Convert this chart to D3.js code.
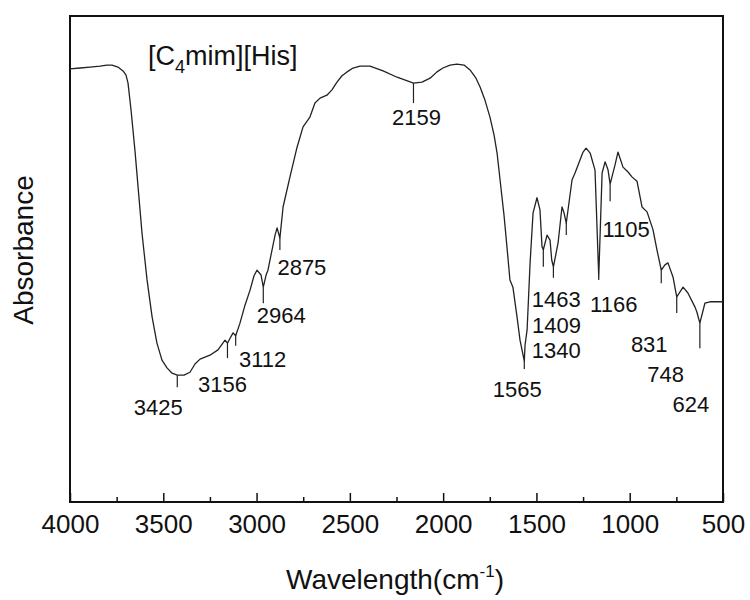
<!DOCTYPE html>
<html>
<head>
<meta charset="utf-8">
<script src="https://cdn.jsdelivr.net/npm/d3@7"></script>
<style>
  body { margin: 0; background: #fff; }
  text { font-family: "Liberation Sans", Arial, sans-serif; fill: #111; }
</style>
</head>
<body>
<div id="chart"></div>
<script>
// FTIR spectrum of [C4mim][His]
const wavenumber = [4000, 3946, 3893, 3839, 3802, 3775, 3743, 3716, 3700, 3689, 3673, 3652, 3614, 3587, 3560, 3534, 3507, 3480, 3453, 3425, 3389, 3357, 3330, 3303, 3250, 3207, 3169, 3156, 3142, 3126, 3112, 3089, 3062, 3035, 3014, 2998, 2976, 2964, 2949, 2939, 2917, 2901, 2890, 2875, 2858, 2821, 2783, 2751, 2714, 2687, 2660, 2623, 2596, 2569, 2542, 2515, 2483, 2446, 2392, 2322, 2247, 2188, 2159, 2113, 2070, 2033, 2001, 1963, 1926, 1888, 1856, 1824, 1802, 1776, 1749, 1727, 1711, 1695, 1674, 1658, 1642, 1626, 1604, 1588, 1565, 1561, 1550, 1534, 1518, 1497, 1481, 1470, 1463, 1443, 1427, 1418, 1409, 1384, 1363, 1352, 1340, 1309, 1293, 1266, 1250, 1234, 1212, 1186, 1166, 1148, 1132, 1116, 1105, 1079, 1063, 1036, 1020, 1009, 988, 961, 934, 907, 875, 854, 831, 811, 795, 768, 748, 714, 688, 650, 640, 624, 597, 570, 543, 516, 500];
const absorbance = [0.891, 0.893, 0.895, 0.897, 0.899, 0.899, 0.895, 0.887, 0.879, 0.862, 0.807, 0.724, 0.553, 0.457, 0.381, 0.327, 0.292, 0.276, 0.265, 0.261, 0.261, 0.267, 0.284, 0.294, 0.302, 0.313, 0.333, 0.327, 0.337, 0.348, 0.342, 0.368, 0.405, 0.436, 0.465, 0.477, 0.467, 0.442, 0.467, 0.477, 0.519, 0.549, 0.564, 0.543, 0.607, 0.669, 0.730, 0.772, 0.792, 0.821, 0.831, 0.837, 0.848, 0.864, 0.877, 0.885, 0.893, 0.897, 0.897, 0.887, 0.874, 0.866, 0.862, 0.864, 0.872, 0.885, 0.893, 0.899, 0.901, 0.899, 0.889, 0.872, 0.854, 0.827, 0.792, 0.755, 0.718, 0.663, 0.591, 0.525, 0.457, 0.442, 0.381, 0.333, 0.290, 0.323, 0.354, 0.492, 0.595, 0.626, 0.601, 0.525, 0.519, 0.549, 0.539, 0.498, 0.484, 0.533, 0.607, 0.595, 0.574, 0.663, 0.677, 0.704, 0.720, 0.728, 0.718, 0.683, 0.463, 0.677, 0.700, 0.683, 0.654, 0.693, 0.720, 0.689, 0.683, 0.679, 0.669, 0.660, 0.607, 0.597, 0.560, 0.519, 0.477, 0.488, 0.492, 0.463, 0.422, 0.442, 0.430, 0.401, 0.391, 0.368, 0.409, 0.412, 0.412, 0.412, 0.412];

const peaks = [3425, 3156, 3112, 2964, 2875, 2159, 1565, 1463, 1409, 1340, 1166, 1105, 831, 748, 624];
const xTicks = [4000, 3500, 3000, 2500, 2000, 1500, 1000, 500];
const xMinorTicks = [3750, 3250, 2750, 2250, 1750, 1250, 750];

// label placement (pixels, relative to the peak point) and marker lengths
const labelLayout = {
  3425: {dx: -19, dy: 40, len: 12},
  3156: {dx: -5, dy: 49, len: 15},
  3112: {dx: 27, dy: 31, len: 10},
  2964: {dx: 18, dy: 36, len: 16},
  2875: {dx: 22, dy: 37, len: 12},
  2159: {dx: 3, dy: 42, len: 20},
  1565: {dx: -7, dy: 36, len: 8},
  1463: {dx: 13, dy: 57, len: 17},
  1409: {dx: 3, dy: 66, len: 11},
  1340: {dx: -10, dy: 135, len: 12},
  1166: {dx: 15, dy: 35, len: 3},
  1105: {dx: 16, dy: 53, len: 17},
  831: {dx: -12, dy: 82, len: 13},
  748: {dx: -11, dy: 85, len: 16},
  624: {dx: -9, dy: 89, len: 25}
};

const width = 750, height = 600;
const plot = {left: 70, top: 16, right: 723, bottom: 502};

const svg = d3.select("#chart").append("svg")
  .attr("width", width)
  .attr("height", height);

const x = d3.scaleLinear().domain([4000, 500]).range([plot.left, plot.right]);
const y = d3.scaleLinear().domain([0, 1]).range([plot.bottom, plot.top]);

const data = wavenumber.map((w, i) => ({w: w, a: absorbance[i]}));

// frame
svg.append("rect")
  .attr("x", plot.left).attr("y", plot.top)
  .attr("width", plot.right - plot.left).attr("height", plot.bottom - plot.top)
  .attr("fill", "none").attr("stroke", "#111").attr("stroke-width", 2);

// bottom axis, ticks pointing inward
const xAxis = svg.append("g")
  .attr("transform", `translate(0,${plot.bottom})`)
  .call(d3.axisBottom(x).tickValues(xTicks).tickSize(-9).tickPadding(13).tickFormat(d3.format("d")));
xAxis.select(".domain").remove();
xAxis.selectAll("line").attr("stroke", "#111").attr("stroke-width", 1.5);
xAxis.selectAll("text").style("font-size", "26px").attr("fill", "#111");

const xMinor = svg.append("g")
  .attr("transform", `translate(0,${plot.bottom})`)
  .call(d3.axisBottom(x).tickValues(xMinorTicks).tickSize(-5).tickFormat(""));
xMinor.select(".domain").remove();
xMinor.selectAll("line").attr("stroke", "#111").attr("stroke-width", 1.5);

// spectrum
const line = d3.line().x(d => x(d.w)).y(d => y(d.a));
svg.append("path")
  .datum(data)
  .attr("d", line)
  .attr("fill", "none")
  .attr("stroke", "#222")
  .attr("stroke-width", 1.3)
  .attr("stroke-linejoin", "round");

// peak markers and labels
function valueAt(w) {
  for (let i = 0; i < data.length - 1; i++) {
    const a = data[i], b = data[i + 1];
    if (w <= a.w && w >= b.w) {
      const t = (a.w - w) / (a.w - b.w);
      return a.a + t * (b.a - a.a);
    }
  }
  return 0;
}

peaks.forEach(p => {
  const lay = labelLayout[p];
  const px = x(p), py = y(valueAt(p));
  svg.append("line")
    .attr("x1", px).attr("x2", px)
    .attr("y1", py).attr("y2", py + lay.len)
    .attr("stroke", "#222").attr("stroke-width", 1.2);
  svg.append("text")
    .attr("x", px + lay.dx)
    .attr("y", py + lay.dy)
    .attr("text-anchor", "middle")
    .style("font-size", "22px")
    .text(p);
});

// sample name
const title = svg.append("text")
  .attr("x", 148).attr("y", 65)
  .style("font-size", "27px");
title.append("tspan").text("[C");
title.append("tspan").attr("dy", 8).style("font-size", "18px").text("4");
title.append("tspan").attr("dy", -8).text("mim][His]");

// axis titles
svg.append("text")
  .attr("transform", "rotate(-90)")
  .attr("x", -250).attr("y", 33)
  .attr("text-anchor", "middle")
  .style("font-size", "28px")
  .text("Absorbance");

const xTitle = svg.append("text")
  .attr("x", 395).attr("y", 589)
  .attr("text-anchor", "middle")
  .style("font-size", "28px");
xTitle.append("tspan").text("Wavelength(cm");
xTitle.append("tspan").attr("dy", -12).style("font-size", "17px").text("-1");
xTitle.append("tspan").attr("dy", 12).text(")");
</script>
</body>
</html>
